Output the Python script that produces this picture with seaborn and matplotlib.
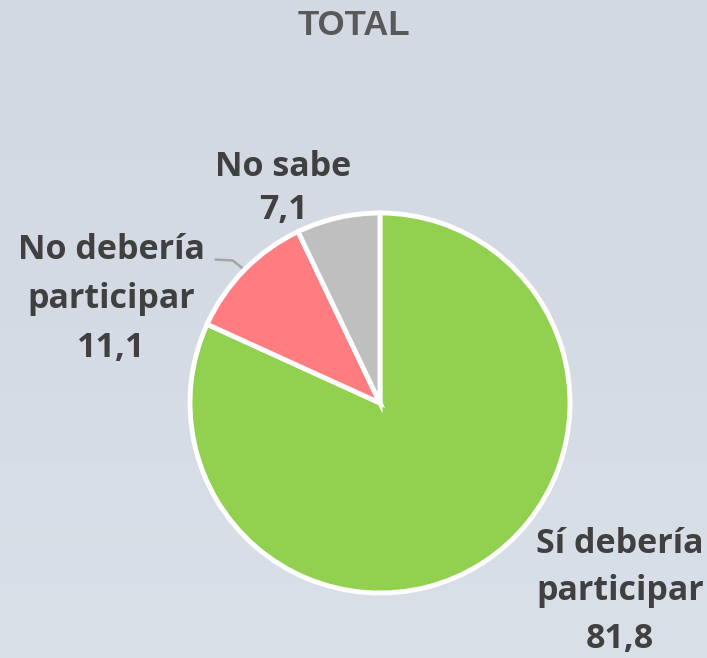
import matplotlib
matplotlib.use('Agg')
import matplotlib.pyplot as plt
from matplotlib.colors import LinearSegmentedColormap
import seaborn as sns
import numpy as np

# datos
categorias = ['Sí debería\nparticipar', 'No debería\nparticipar', 'No sabe']
valores = [81.8, 11.1, 7.1]
etiquetas_valor = ['81,8', '11,1', '7,1']
colores = ['#92D050', '#FF7C80', '#BFBFBF']

sns.set_theme(style='white')
plt.rcParams['font.family'] = ['Open Sans', 'DejaVu Sans']

W, H = 707, 658
fig = plt.figure(figsize=(W / 100, H / 100), dpi=100)
fig.patch.set_facecolor('#D3DAE4')

# fondo con degradado suave
bg = fig.add_axes([0, 0, 1, 1], zorder=0)
cmap_bg = LinearSegmentedColormap.from_list('bg', ['#D2D9E3', '#D4DBE5', '#DAE0E8'])
grad = np.linspace(0, 1, 256).reshape(-1, 1)
bg.imshow(grad, aspect='auto', cmap=cmap_bg, extent=[0, 1, 0, 1])
bg.axis('off')

# ejes de la torta
cx, cy, r = 380, 403, 190
ax = fig.add_axes([(cx - r) / W, (H - cy - r) / H, 2 * r / W, 2 * r / H], zorder=1)
wedges, _ = ax.pie(valores, colors=colores, startangle=90, counterclock=False,
                   wedgeprops=dict(edgecolor='white', linewidth=3.5))
ax.set_xlim(-1, 1)
ax.set_ylim(-1, 1)
ax.set_aspect('equal')
ax.axis('off')

estilo = dict(fontsize=24.5, fontweight='bold', color='#404040', ha='center', va='center',
              clip_on=False)

# posiciones de las etiquetas (coordenadas de datos)
pos = [(1.263, -0.99), (-1.413, 0.547), (-0.508, 1.129)]
interlineado = [1.52, 1.58, 1.32]
for cat, val, (x, y), ls in zip(categorias, etiquetas_valor, pos, interlineado):
    ax.text(x, y, f'{cat}\n{val}', linespacing=ls, **estilo)

# línea guía hacia "No debería participar"
w = wedges[1]
ang = np.deg2rad((w.theta1 + w.theta2) / 2)
ex, ey = np.cos(ang), np.sin(ang)
ax.plot([-0.865, -0.774, ex], [0.755, 0.750, ey], color='#A6A6A6', lw=1.8,
        clip_on=False, zorder=0)

fig.text(0.5, 1 - 35 / H, 'TOTAL', ha='center', va='baseline', fontsize=25,
         fontweight='bold', color='#595959', family=['Liberation Sans', 'DejaVu Sans'])

fig.savefig('out.png', dpi=100, facecolor=fig.get_facecolor())
